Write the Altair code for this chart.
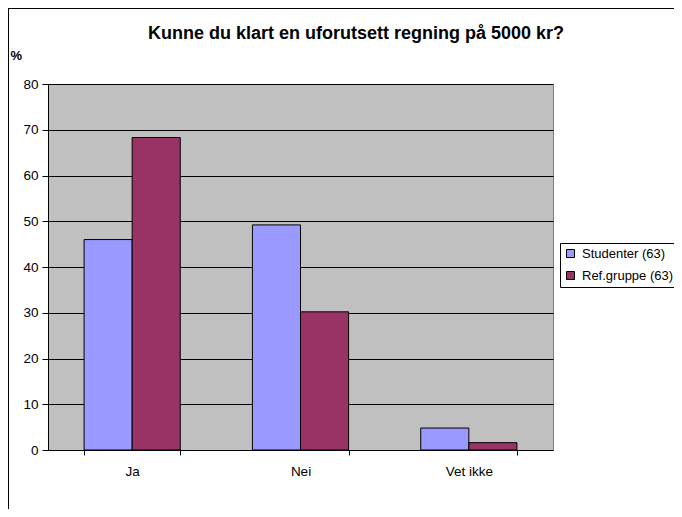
import altair as alt
import pandas as pd

title_text = ["Kunne du klart en uforutsett regning på 5000 kr?"]
categories = ["Ja", "Nei", "Vet ikke"]
series = ["Studenter (63)", "Ref.gruppe (63)"]
studenter = [46.0, 49.2, 4.8]
refgruppe = [68.3, 30.2, 1.6]
colors = ["#9999FF", "#993366"]

rows = []
for i, c in enumerate(categories):
    rows.append({"kat": c, "serie": series[0], "verdi": studenter[i]})
    rows.append({"kat": c, "serie": series[1], "verdi": refgruppe[i]})
df = pd.DataFrame(rows)

FONT = "Liberation Sans"
FS = 13.5

bars = alt.Chart(df).mark_bar(stroke="black", strokeWidth=1).encode(
    x=alt.X("kat:N", sort=categories,
            scale=alt.Scale(paddingInner=0.4286, paddingOuter=0.2143),
            axis=alt.Axis(title=None, labelAngle=0, tickBand="extent",
                          domainColor="black", tickColor="black", tickSize=5,
                          labelColor="black", labelFontSize=FS, labelPadding=9,
                          grid=False)),
    xOffset=alt.XOffset("serie:N", sort=series),
    y=alt.Y("verdi:Q", scale=alt.Scale(domain=[0, 80]),
            axis=alt.Axis(values=[0, 10, 20, 30, 40, 50, 60, 70, 80],
                          title="%", titleAngle=0, titleAlign="left",
                          titleX=-38, titleY=-22, titleFontSize=13,
                          titleFontWeight="bold", titleColor="black",
                          domainColor="black", tickColor="black", tickSize=6,
                          labelColor="black", labelFontSize=FS, labelPadding=4,
                          grid=True, gridColor="black", gridWidth=1)),
    color=alt.Color("serie:N", sort=series,
                    scale=alt.Scale(domain=series, range=colors),
                    legend=alt.Legend(title=None, orient="none",
                                      legendX=512, legendY=159,
                                      symbolType="square", symbolSize=64,
                                      symbolStrokeColor="black", symbolStrokeWidth=1,
                                      labelFontSize=13, labelColor="black",
                                      labelOffset=5,
                                      strokeColor="black", padding=4,
                                      rowPadding=8, fillColor="white")),
)

title = alt.Chart(pd.DataFrame({"t": title_text})).mark_text(
    font=FONT, fontSize=18, fontWeight="bold", color="black",
    align="center", baseline="alphabetic"
).encode(text="t:N", x=alt.value(308), y=alt.value(-45))

border = alt.Chart(pd.DataFrame({"a": [0]})).mark_rule(color="black", strokeWidth=1).encode(
    x=alt.value(-39.5), x2=alt.value(-39.5), y=alt.value(-76), y2=alt.value(450)
)
border_top = alt.Chart(pd.DataFrame({"a": [0]})).mark_rule(color="black", strokeWidth=1).encode(
    x=alt.value(-40), x2=alt.value(700), y=alt.value(-75.5), y2=alt.value(-75.5)
)

chart = alt.layer(bars, title, border, border_top).properties(
    width=505, height=366,
    autosize=alt.AutoSizeParams(type="none"),
    padding={"left": 40, "top": 76, "right": 121, "bottom": 59},
).configure(font=FONT).configure_view(
    fill="#C0C0C0", stroke="#808080", strokeWidth=1
).configure_axis(labelFont=FONT, titleFont=FONT).configure_legend(labelFont=FONT)

chart.save("out.html", embed_options={"renderer": "svg", "actions": False})
